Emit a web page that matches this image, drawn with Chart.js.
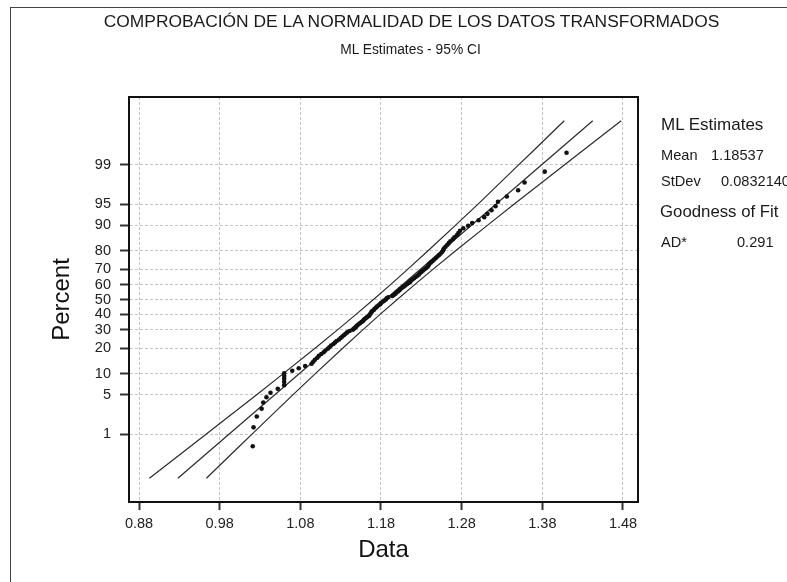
<!DOCTYPE html>
<html>
<head>
<meta charset="utf-8">
<script src="https://cdn.jsdelivr.net/npm/chart.js@4.4.1/dist/chart.umd.min.js"></script>
<style>
  html, body { margin: 0; padding: 0; background: #fff; }
  body { width: 787px; height: 582px; overflow: hidden; position: relative; font-family: "Liberation Sans", Arial, sans-serif; color: #1a1a1a; }
  #frame { position: absolute; left: 10px; top: 7px; width: 800px; height: 600px; border-left: 1.5px solid #444; border-top: 1.5px solid #444; }
  .txt { position: absolute; white-space: nowrap; line-height: 1; }
  #chartBox { position: absolute; left: 0; top: 0; width: 787px; height: 582px; }
</style>
</head>
<body>
<div id="frame"></div>
<div id="chartBox"><canvas id="probPlot" width="787" height="582"></canvas></div>

<div class="txt" style="left:0;width:823px;text-align:center;top:13px;font-size:17.4px;">COMPROBACIÓN DE LA NORMALIDAD DE LOS DATOS TRANSFORMADOS</div>
<div class="txt" style="left:0;width:821px;text-align:center;top:43px;font-size:13.8px;">ML Estimates - 95% CI</div>

<div class="txt" style="left:661px;top:116px;font-size:17px;">ML Estimates</div>
<div class="txt" style="left:661px;top:148px;font-size:14.6px;">Mean</div>
<div class="txt" style="left:711px;top:148px;font-size:14.6px;">1.18537</div>
<div class="txt" style="left:661px;top:174px;font-size:14.6px;">StDev</div>
<div class="txt" style="left:721px;top:174px;font-size:14.6px;">0.0832140</div>
<div class="txt" style="left:660px;top:204px;font-size:16.8px;">Goodness of Fit</div>
<div class="txt" style="left:661px;top:235px;font-size:14.6px;">AD*</div>
<div class="txt" style="left:737px;top:235px;font-size:14.6px;">0.291</div>

<script>
// --- datos (valores transformados, ordenados) ---
const dataValues = [
  1.021, 1.022, 1.026, 1.032, 1.034, 1.038, 1.043, 1.052, 1.060, 1.060,
  1.060, 1.060, 1.060, 1.070, 1.078, 1.086, 1.094, 1.096, 1.098, 1.101,
  1.103, 1.106, 1.109, 1.111, 1.114, 1.116, 1.118, 1.121, 1.123, 1.125,
  1.128, 1.130, 1.132, 1.134, 1.136, 1.138, 1.141, 1.145, 1.147, 1.149,
  1.150, 1.152, 1.154, 1.156, 1.158, 1.159, 1.161, 1.163, 1.165, 1.166,
  1.167, 1.168, 1.169, 1.171, 1.172, 1.174, 1.175, 1.177, 1.179, 1.180,
  1.182, 1.184, 1.186, 1.187, 1.189, 1.194, 1.196, 1.198, 1.199, 1.201,
  1.203, 1.204, 1.206, 1.208, 1.210, 1.212, 1.214, 1.216, 1.217, 1.219,
  1.221, 1.223, 1.225, 1.227, 1.228, 1.230, 1.232, 1.234, 1.236, 1.238,
  1.239, 1.240, 1.242, 1.244, 1.246, 1.248, 1.250, 1.252, 1.254, 1.256,
  1.257, 1.258, 1.260, 1.262, 1.264, 1.266, 1.269, 1.271, 1.274, 1.276,
  1.278, 1.282, 1.288, 1.293, 1.301, 1.308, 1.312, 1.317, 1.322, 1.325,
  1.336, 1.350, 1.358, 1.383, 1.410
];

// recta ajustada (ML) y bandas de confianza 95%
const fitPercent = [0.1, 99.9];
const fitX = [0.9282, 1.4425];

const ciPercent = [0.1, 0.2, 0.5, 1, 2, 5, 10, 20, 30, 40, 50, 60, 70, 80, 90, 95, 98, 99, 99.5, 99.8, 99.9];
const ciLowerX = [0.8929, 0.9125, 0.9404, 0.9635, 0.9885, 1.0259, 1.0589, 1.0982, 1.1261, 1.1494, 1.1707,
                  1.1915, 1.2133, 1.2383, 1.2722, 1.3000, 1.3304, 1.3506, 1.3692, 1.3915, 1.4072];
const ciUpperX = [0.9636, 0.9792, 1.0016, 1.0201, 1.0404, 1.0710, 1.0986, 1.1325, 1.1574, 1.1792, 1.2001,
                  1.2214, 1.2447, 1.2725, 1.3119, 1.3448, 1.3822, 1.4072, 1.4303, 1.4582, 1.4778];

// ejes
const xTicks = [0.88, 0.98, 1.08, 1.18, 1.28, 1.38, 1.48];
const yTicks = [1, 5, 10, 20, 30, 40, 50, 60, 70, 80, 90, 95, 99];

// --- inversa de la normal (Acklam) ---
function probit(p) {
  const a = [-39.69683028665376, 220.9460984245205, -275.9285104469687, 138.3577518672690, -30.66479806614716, 2.506628274631000];
  const b = [-54.47609879822406, 161.5858368580409, -155.6989798598866, 66.80131188771972, -13.28068155211977];
  const c = [-0.007784894002430293, -0.3223964580411365, -2.400758277161838, -2.549732539343734, 4.374664141464968, 2.938163982698783];
  const d = [0.007784695709041462, 0.3224671290700398, 2.445134137142996, 3.754408661907416];
  const pl = 0.02425;
  if (p < pl) {
    const q = Math.sqrt(-2 * Math.log(p));
    return (((((c[0]*q+c[1])*q+c[2])*q+c[3])*q+c[4])*q+c[5]) / ((((d[0]*q+d[1])*q+d[2])*q+d[3])*q+1);
  }
  if (p > 1 - pl) {
    const q = Math.sqrt(-2 * Math.log(1 - p));
    return -(((((c[0]*q+c[1])*q+c[2])*q+c[3])*q+c[4])*q+c[5]) / ((((d[0]*q+d[1])*q+d[2])*q+d[3])*q+1);
  }
  const q = p - 0.5, r = q * q;
  return (((((a[0]*r+a[1])*r+a[2])*r+a[3])*r+a[4])*r+a[5])*q / (((((b[0]*r+b[1])*r+b[2])*r+b[3])*r+b[4])*r+1);
}

// --- escala de probabilidad normal (percent -> z) ---
class ProbitScale extends Chart.LinearScale {
  static id = "probit";
  static defaults = Chart.LinearScale.defaults;
  determineDataLimits() {
    this.min = probit(this.options.min / 100);
    this.max = probit(this.options.max / 100);
  }
  buildTicks() {
    return yTicks.map(v => ({ value: v }));
  }
  getPixelForValue(value) {
    return super.getPixelForValue(probit(value / 100));
  }
}
Chart.register(ProbitScale);

// marco superior y derecho del area de trazado
const plotFrame = {
  id: "plotFrame",
  beforeDatasetsDraw(chart) {
    const { ctx, chartArea: a } = chart;
    ctx.save();
    ctx.strokeStyle = "#111";
    ctx.lineWidth = 2;
    ctx.beginPath();
    ctx.moveTo(a.left, a.top);
    ctx.lineTo(a.right, a.top);
    ctx.lineTo(a.right, a.bottom);
    ctx.stroke();
    ctx.restore();
  }
};

// mediana de rangos (posiciones de trazado)
const n = dataValues.length;
const points = dataValues.map((v, i) => ({ x: v, y: (i + 1 - 0.3) / (n + 0.4) * 100 }));
const pairs = (xs, ps) => xs.map((x, i) => ({ x, y: ps[i] }));

const lineStyle = { showLine: true, borderColor: "#2b2b2b", borderWidth: 1.2, pointRadius: 0, fill: false, tension: 0 };
const tickFont = { family: "'Liberation Sans', Arial, sans-serif", size: 14.5 };

new Chart(document.getElementById("probPlot"), {
  type: "scatter",
  data: {
    datasets: [
      { label: "Datos", data: points, pointRadius: 2.3, pointBackgroundColor: "#111", pointBorderWidth: 0, showLine: false },
      { label: "ML", data: pairs(fitX, fitPercent), ...lineStyle },
      { label: "IC inferior", data: pairs(ciLowerX, ciPercent), ...lineStyle },
      { label: "IC superior", data: pairs(ciUpperX, ciPercent), ...lineStyle }
    ]
  },
  options: {
    responsive: false,
    animation: false,
    devicePixelRatio: 1,
    layout: { padding: { left: 20, top: 97, right: 149, bottom: 0 } },
    plugins: { legend: { display: false }, tooltip: { enabled: false }, title: { display: false } },
    scales: {
      x: {
        type: "linear",
        min: 0.8676,
        max: 1.4986,
        afterBuildTicks: s => { s.ticks = xTicks.map(v => ({ value: v })); },
        afterFit: s => { s.height = 80; },
        ticks: { autoSkip: false, maxRotation: 0, padding: 5, color: "#222", font: tickFont, callback: v => v.toFixed(2) },
        grid: { color: "#c4c4c4", lineWidth: 1, tickLength: 8, tickColor: "#333", tickWidth: 2 },
        border: { color: "#111", width: 2, dash: [3, 2] },
        title: { display: true, text: "Data", color: "#111", font: { family: "'Liberation Sans', Arial, sans-serif", size: 24 }, padding: { top: 0, bottom: 17 } }
      },
      y: {
        type: "probit",
        min: 0.02326,
        max: 99.97674,
        afterFit: s => { s.width = 109; },
        ticks: { autoSkip: false, padding: 9, color: "#222", font: tickFont, callback: v => String(v) },
        grid: { color: "#c4c4c4", lineWidth: 1, tickLength: 9, tickColor: "#333", tickWidth: 2 },
        border: { color: "#111", width: 2, dash: [3, 2] },
        title: { display: true, text: "Percent", color: "#111", font: { family: "'Liberation Sans', Arial, sans-serif", size: 24 }, padding: { top: 28, bottom: 0 } }
      }
    }
  },
  plugins: [plotFrame]
});
</script>
</body>
</html>
